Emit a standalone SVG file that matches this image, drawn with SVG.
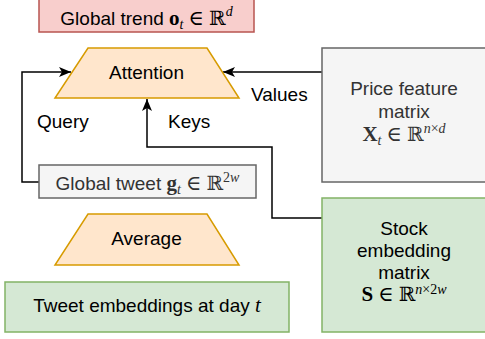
<svg xmlns="http://www.w3.org/2000/svg" width="485" height="339" viewBox="0 0 485 339">
  <style>
    .t { font-family: "Liberation Sans", Arial, sans-serif; font-size: 19px; fill: #000; }
    .g { fill: #333333; }
    .m { font-family: "Liberation Serif", "DejaVu Serif", serif; font-size: 21px; }
    .bb { font-weight: bold; }
    .i { font-style: italic; }
    .s { font-size: 14px; }
    .R { font-family: "DejaVu Serif", serif; font-size: 20px; }
    .pink { fill: #f8cecc; stroke: #b85450; stroke-width: 1.5; }
    .orange { fill: #ffe6cc; stroke: #d79b00; stroke-width: 1.5; }
    .grey { fill: #f5f5f5; stroke: #666666; stroke-width: 1.5; }
    .green { fill: #d5e8d4; stroke: #82b366; stroke-width: 1.5; }
    .edge { fill: none; stroke: #000; stroke-width: 1.5; marker-end: url(#arrow); }
  </style>
  <defs>
    <marker id="arrow" markerUnits="userSpaceOnUse" markerWidth="12" markerHeight="10" refX="12" refY="5" orient="auto" viewBox="0 0 12 10">
      <path d="M0,0 L12,5 L0,10 L3,5 Z" fill="#000"/>
    </marker>
  </defs>

  <g id="connectors">
    <path class="edge" d="M39,182 H22 V72 H71"/>
    <path class="edge" d="M322,72 H223"/>
    <path class="edge" d="M322,218 H272 V147 H147 V99"/>
  </g>

  <g id="global-trend">
    <rect class="pink" x="39" y="-2" width="215" height="34"/>
    <text class="t" x="146.5" y="25" text-anchor="middle">Global trend <tspan class="m bb">o</tspan><tspan class="m i s" dy="4">t</tspan><tspan class="m" dx="5" dy="-4">∈</tspan><tspan class="R" dx="5">ℝ</tspan><tspan class="m i s" dy="-9">d</tspan></text>
  </g>

  <g id="attention">
    <polygon class="orange" points="88,48 207,48 239,98 55,98"/>
    <text class="t" x="146.5" y="79" text-anchor="middle">Attention</text>
  </g>

  <g id="labels">
    <text class="t" x="251" y="101">Values</text>
    <text class="t" x="37" y="128">Query</text>
    <text class="t" x="168" y="128">Keys</text>
  </g>

  <g id="price-feature">
    <rect class="grey" x="322" y="48" width="166" height="134"/>
    <text class="t g" x="404" y="95" text-anchor="middle">Price feature</text>
    <text class="t g" x="404" y="118" text-anchor="middle">matrix</text>
    <text class="t g" x="404" y="141" text-anchor="middle"><tspan class="m bb">X</tspan><tspan class="m i s" dy="4">t</tspan><tspan class="m" dx="5" dy="-4">∈</tspan><tspan class="R" dx="5">ℝ</tspan><tspan class="m s" dy="-8"><tspan class="i">n</tspan>×<tspan class="i">d</tspan></tspan></text>
  </g>

  <g id="global-tweet">
    <rect class="grey" x="39" y="165" width="217" height="33"/>
    <text class="t g" x="147.5" y="190" text-anchor="middle">Global tweet <tspan class="m bb">g</tspan><tspan class="m i s" dy="4">t</tspan><tspan class="m" dx="5" dy="-4">∈</tspan><tspan class="R" dx="5">ℝ</tspan><tspan class="m s" dy="-8">2<tspan class="i">w</tspan></tspan></text>
  </g>

  <g id="stock-embedding">
    <rect class="green" x="322" y="198" width="166" height="134"/>
    <text class="t" x="404" y="235" text-anchor="middle">Stock</text>
    <text class="t" x="404" y="257" text-anchor="middle">embedding</text>
    <text class="t" x="404" y="279" text-anchor="middle">matrix</text>
    <text class="t" x="404" y="301" text-anchor="middle"><tspan class="m bb">S</tspan><tspan class="m" dx="5">∈</tspan><tspan class="R" dx="5">ℝ</tspan><tspan class="m s" dy="-7"><tspan class="i">n</tspan>×2<tspan class="i">w</tspan></tspan></text>
  </g>

  <g id="average">
    <polygon class="orange" points="88,214 207,214 239,265 55,265"/>
    <text class="t" x="146.5" y="245" text-anchor="middle">Average</text>
  </g>

  <g id="tweet-embeddings">
    <rect class="green" x="5" y="282" width="284" height="50"/>
    <text class="t" x="147" y="312" text-anchor="middle">Tweet embeddings at day <tspan class="m i">t</tspan></text>
  </g>
</svg>
